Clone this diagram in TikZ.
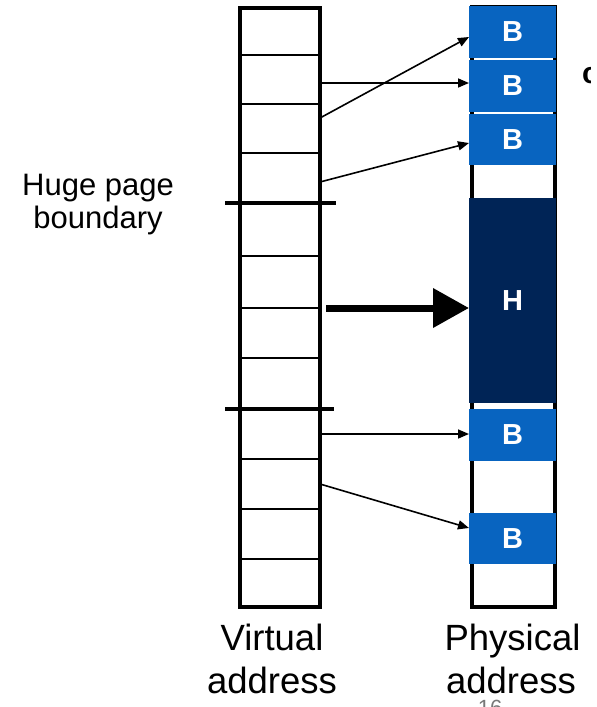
\documentclass[tikz,border=0pt]{standalone}
\usepackage{fontspec}
\setmainfont{Liberation Sans}
\usetikzlibrary{arrows.meta}
\definecolor{bblue}{RGB}{8,100,192}
\definecolor{hnavy}{RGB}{0,36,86}
\definecolor{pgray}{RGB}{120,120,120}
\tikzset{
  vcell/.style={draw=black, line width=2pt, inner sep=0pt, outer sep=0pt, minimum width=80pt},
  blk/.style={fill=bblue, inner sep=0pt, outer sep=0pt, minimum width=87pt, text=white, font=\bfseries\fontsize{29}{29}\selectfont},
  hblk/.style={blk, fill=hnavy},
  lbl/.style={inner sep=0pt, anchor=base, font=\fontsize{36.5}{36.5}\selectfont},
  smlbl/.style={inner sep=0pt, anchor=base, font=\fontsize{31}{31}\selectfont},
  thinarrow/.style={line width=1.6pt, -{Triangle[length=11pt,width=9pt]}},
  bigarrow/.style={line width=7pt, -{Triangle[length=36pt,width=38pt]}},
  bnd/.style={line width=4pt}
}
\begin{document}
\begin{tikzpicture}[x=1pt,y=-1pt]
\useasboundingbox (0,0) rectangle (597,707);
% virtual address cells
\foreach \i/\a/\b in {1/8/55,2/55/104,3/104/153,4/153/203,5/203/256,6/256/308,7/308/358,8/358/409,9/409/459,10/459/509,11/509/559,12/559/607}{
  \node[vcell, minimum height={(\b-\a)*1pt}] (v\i) at (280,{(\a+\b)/2}) {};
}
\draw[line width=4pt] (v1.north west) rectangle (v12.south east);
% huge page boundaries
\coordinate (bl1) at (225,203);
\coordinate (br1) at (336,203);
\coordinate (bl2) at (225,409);
\coordinate (br2) at (334,409);
\draw[bnd] (bl1) -- (br1);
\draw[bnd] (bl2) -- (br2);
% physical column
\node[draw=black, line width=4pt, inner sep=0pt, outer sep=0pt, minimum width=83pt, minimum height=600pt] (pcol) at (513.5,307) {};
\node[blk, minimum height=52pt] (b1) at (512.5,32) {B};
\node[blk, minimum height=52pt] (b2) at (512.5,86) {B};
\node[blk, minimum height=51pt] (b3) at (512.5,139.5) {B};
\node[hblk, minimum height=205pt] (h) at (512.5,300.5) {H};
\node[blk, minimum height=52pt] (b4) at (512.5,435) {B};
\node[blk, minimum height=51pt] (b5) at (512.5,538.5) {B};
% arrows
\draw[thinarrow] ([yshift=10.5pt]v3.east) -- ([yshift=-5pt]b1.west);
\draw[thinarrow] ([yshift=-3.5pt]v2.east) -- ([yshift=3pt]b2.west);
\draw[thinarrow] ([yshift=-4pt]v4.east) -- ([yshift=-3.5pt]b3.west);
\draw[bigarrow] ([xshift=6pt]v7.north east) -- (h.west |- v7.north east);
\draw[thinarrow] (v9.east) -- (b4.west |- v9.east);
\draw[thinarrow] (v10.east) -- ([yshift=10.5pt]b5.west);
% labels
\node[smlbl] (huge1) at (98,195) {Huge page};
\node[smlbl] (huge2) at (98,228) {boundary};
\begin{scope}
\clip (0,0) rectangle (590,707);
\node[inner sep=0pt, anchor=north, text=pgray, font=\fontsize{22}{22}\selectfont] (pnum) at (490,700) {16};
\node[inner sep=0pt, anchor=base west, font=\bfseries\fontsize{30}{30}\selectfont] (cut) at (582,83) {c};
\end{scope}
\node[lbl] (virt1) at (272,650) {Virtual};
\node[lbl] (virt2) at (272,693) {address};
\node[lbl] (phys1) at (512.5,650) {Physical};
\node[lbl] (phys2) at (511,693) {address};
\end{tikzpicture}
\end{document}
